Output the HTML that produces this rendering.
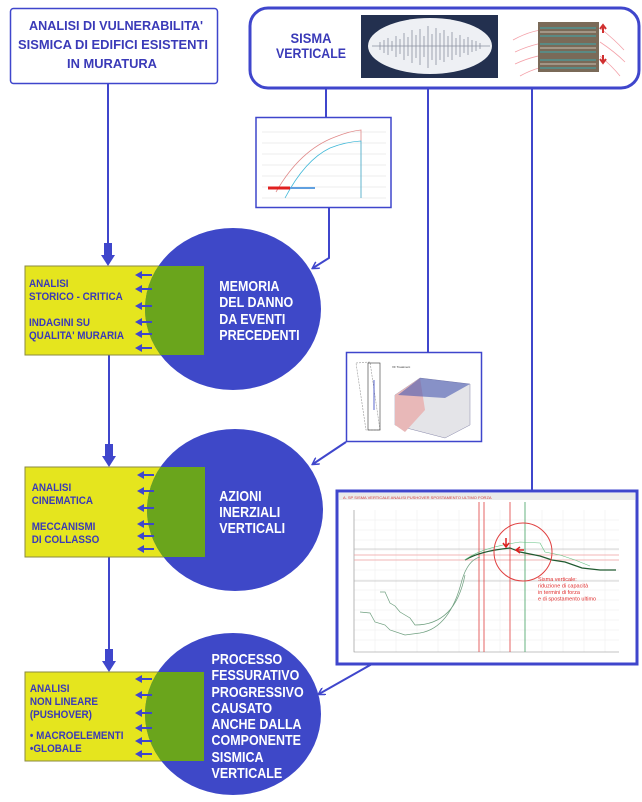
<!DOCTYPE html>
<html><head><meta charset="utf-8"><style>
html,body{margin:0;padding:0;background:#fff;}
svg{display:block;}
.t{font-family:"Liberation Sans",sans-serif;font-weight:bold;}
</style></head><body>
<svg width="642" height="802" viewBox="0 0 642 802" xmlns="http://www.w3.org/2000/svg">
<defs>
<marker id="ah" markerWidth="8" markerHeight="8" refX="6" refY="4" orient="auto" markerUnits="userSpaceOnUse"><path d="M0,0 L7,4 L0,8" fill="none" stroke="#3f46cc" stroke-width="1.5"/></marker>
</defs>
<rect x="10.5" y="8.5" width="207" height="75" rx="3" fill="#fff" stroke="#3f46cc" stroke-width="1.5"/>
<g class="t" fill="#3a3ab8" font-size="13" text-anchor="middle">
<text x="116" y="30" textLength="174" lengthAdjust="spacingAndGlyphs">ANALISI DI VULNERABILITA'</text>
<text x="113" y="49" textLength="190" lengthAdjust="spacingAndGlyphs">SISMICA DI EDIFICI ESISTENTI</text>
<text x="112" y="68" textLength="90" lengthAdjust="spacingAndGlyphs">IN MURATURA</text>
</g>
<rect x="250" y="8" width="389" height="80" rx="18" fill="#fff" stroke="#3f46cc" stroke-width="3"/>
<g class="t" fill="#3a3ab8" font-size="14" text-anchor="middle">
<text x="311" y="43" textLength="41" lengthAdjust="spacingAndGlyphs">SISMA</text>
<text x="311" y="58" textLength="70" lengthAdjust="spacingAndGlyphs">VERTICALE</text>
</g>
<rect x="361" y="15" width="137" height="63" fill="#23304f"/>
<ellipse cx="430" cy="46" rx="62" ry="28" fill="#eef0f4"/>
<g stroke="#8a90a0" stroke-width="0.8">
<path d="M372,46 H490"/>
<path d="M380,42V50 M384,40V53 M388,38V55 M392,41V51 M396,36V57 M400,39V54 M404,33V60 M408,37V56 M412,30V63 M416,35V58 M420,29V65 M424,36V57 M428,26V68 M432,34V60 M436,28V65 M440,33V60 M444,30V62 M448,36V57 M452,32V60 M456,38V55 M460,35V57 M464,39V53 M468,37V55 M472,40V52 M476,41V51 M480,43V49"/>
</g>
<g fill="none" stroke="#f4a0a8" stroke-width="0.8">
<path d="M513,40 Q540,25 568,30 M515,52 Q545,38 575,42 M515,64 Q545,50 575,55 M520,76 Q545,62 570,66"/>
<path d="M600,28 Q615,40 624,50 M600,42 Q615,52 625,62 M600,56 Q612,66 620,76"/>
</g>
<rect x="538" y="22" width="61" height="50" fill="#7a6a58"/>
<g stroke="#5a8a84" stroke-width="2"><path d="M540,28H596M540,36H596M540,44H596M540,52H596M540,60H596M540,68H596"/></g>
<g stroke="#c9c2b5" stroke-width="1"><path d="M540,32H596M540,48H596M540,64H596"/></g>
<path d="M603,33v-7M600,29l3,-4l3,4" stroke="#d03030" stroke-width="2" fill="none"/>
<path d="M603,55v7M600,59l3,4l3,-4" stroke="#d03030" stroke-width="2" fill="none"/>
<g stroke="#3f46cc" stroke-width="2" fill="none">
<path d="M108,83V262"/>
<path d="M326,88V117"/>
<path d="M428,88V352"/>
<path d="M532,88V490"/>
<path d="M329,208V258L313,268" marker-end="url(#ah)"/>
<path d="M346,442L313,464" marker-end="url(#ah)"/>
<path d="M372,664L319,694" marker-end="url(#ah)"/>
<path d="M109,355V460"/>
<path d="M109,557V668"/>
</g>
<g fill="#3f46cc">
<rect x="104" y="243" width="8" height="14"/><path d="M101,255H115L108,266Z"/>
<rect x="105" y="444" width="8" height="14"/><path d="M102,456H116L109,467Z"/>
<rect x="105" y="649" width="8" height="14"/><path d="M102,661H116L109,672Z"/>
</g>
<rect x="256" y="117.5" width="135" height="90" fill="#fff" stroke="#3f46cc" stroke-width="1.5"/>
<g stroke="#ddd" stroke-width="0.5"><path d="M262,132H386M262,143H386M262,154H386M262,165H386M262,176H386M262,187H386M262,198H386"/></g>
<path d="M276,192 Q300,150 335,137 Q350,131 361,130 V198" stroke="#e08a8a" fill="none" stroke-width="0.8"/>
<path d="M285,198 Q305,160 330,148 Q345,142 361,141 V198" stroke="#40b8d8" fill="none" stroke-width="0.8"/>
<path d="M268,188H290" stroke="#e02020" stroke-width="3"/>
<path d="M290,188H315" stroke="#60a0e0" stroke-width="2"/>
<rect x="346.5" y="352.5" width="135" height="89" fill="#fff" stroke="#3f46cc" stroke-width="1.5"/>
<path d="M356,363 L370,362 L380,430 L366,430Z" fill="none" stroke="#999" stroke-width="0.6" stroke-dasharray="2,1"/>
<rect x="368" y="363" width="12" height="67" fill="none" stroke="#333" stroke-width="0.6"/>
<path d="M374,380V410" stroke="#3040c0" stroke-width="0.8"/>
<text x="392" y="368" font-size="3" font-family="Liberation Sans" fill="#333">VF Treatment</text>
<path d="M395,395 L420,378 L470,384 L470,425 L445,438 L395,425Z" fill="#e4e4e8" stroke="#8888aa" stroke-width="0.5"/>
<path d="M395,395 L420,378 L425,410 L405,432 L395,425Z" fill="#e8b8b8"/>
<path d="M420,378 L470,384 L445,398 L398,395Z" fill="#4a5ab0" opacity="0.6"/>
<rect x="337" y="491" width="300" height="173" fill="#fff" stroke="#3f46cc" stroke-width="3"/>
<rect x="339" y="493" width="296" height="7" fill="#eaeaea"/>
<text x="343" y="499" font-size="4" font-family="Liberation Sans" fill="#d04040">A. SP  SISMA VERTICALE ANALISI PUSHOVER SPOSTAMENTO ULTIMO FORZA</text>
<g stroke="#ececec" stroke-width="0.5">
<path d="M354,520H619M354,530H619M354,540H619M354,550H619M354,560H619M354,570H619M354,580H619M354,590H619M354,600H619M354,610H619M354,620H619M354,630H619M354,640H619"/>
<path d="M375,510V652M396,510V652M417,510V652M438,510V652M459,510V652M500,510V652M542,510V652M563,510V652M584,510V652M605,510V652"/>
</g>
<path d="M354,510V652H619" stroke="#888" stroke-width="0.6" fill="none"/>
<path d="M354,581H619M354,549H619" stroke="#aaa" stroke-width="0.5"/>
<path d="M354,555H619M354,560H619" stroke="#f0a0a0" stroke-width="0.8"/>
<g stroke="#e04040" stroke-width="0.8"><path d="M479,502V652M484,502V652M510,502V652"/></g>
<path d="M525,502V652" stroke="#40a060" stroke-width="0.8"/>
<path d="M465,560 Q480,551 510,548 L520,552 L540,556 L552,560 L565,562 L582,568 L600,570 L616,570" stroke="#205a30" fill="none" stroke-width="1.2"/>
<path d="M465,560 Q480,548 520,542 L540,543 L545,552 L560,555 L575,560 L590,566" stroke="#60c080" fill="none" stroke-width="0.6"/>
<path d="M360,612 L370,613 L375,622 L385,625 L390,630 L405,635 L420,633 Q450,628 462,580 Q468,560 480,557" stroke="#70a080" fill="none" stroke-width="0.7"/>
<path d="M380,592 L385,592 L390,603 L395,606 L400,612 L410,618 L415,625 Q455,625 465,575" stroke="#70a080" fill="none" stroke-width="0.7"/>
<circle cx="523" cy="552" r="29" fill="none" stroke="#e04040" stroke-width="1"/>
<path d="M506,538v8M503,543l3,4l3,-4" stroke="#e02020" stroke-width="1.5" fill="none"/>
<path d="M524,550h-8M520,547l-4,3l4,3" stroke="#e02020" stroke-width="1.5" fill="none"/>
<g font-family="Liberation Sans" font-size="5.5" fill="#e03030">
<text x="538" y="581">Sisma verticale:</text>
<text x="538" y="587.5">riduzione di capacità</text>
<text x="538" y="594">in termini di forza</text>
<text x="538" y="600.5">e di spostamento ultimo</text>
</g>
<g stroke="#8a8a40" stroke-width="1">
<rect x="25" y="266" width="179" height="89" fill="#e5e51e"/>
<rect x="25" y="467" width="180" height="90" fill="#e5e51e"/>
<rect x="25" y="672" width="179" height="89" fill="#e5e51e"/>
</g>
<g fill="#3e48c8">
<ellipse cx="233" cy="309" rx="88" ry="81"/>
<ellipse cx="235" cy="510" rx="88" ry="81"/>
<ellipse cx="233" cy="714" rx="88" ry="81"/>
</g>
<clipPath id="c1"><ellipse cx="233" cy="309" rx="88" ry="81"/></clipPath>
<clipPath id="c2"><ellipse cx="235" cy="510" rx="88" ry="81"/></clipPath>
<clipPath id="c3"><ellipse cx="233" cy="714" rx="88" ry="81"/></clipPath>
<rect x="140" y="266" width="64" height="89" fill="#6aa51c" clip-path="url(#c1)"/>
<rect x="140" y="467" width="65" height="90" fill="#6aa51c" clip-path="url(#c2)"/>
<rect x="140" y="672" width="64" height="89" fill="#6aa51c" clip-path="url(#c3)"/>
<g fill="#3f46cc">
<path d="M135,275l7,-4v3h10v2h-10v3z M135,289l7,-4v3h10v2h-10v3z M135,306l7,-4v3h10v2h-10v3z M135,322l7,-4v3h10v2h-10v3z M135,334l7,-4v3h10v2h-10v3z M135,348l7,-4v3h10v2h-10v3z"/>
<path d="M137,475l7,-4v3h10v2h-10v3z M137,491l7,-4v3h10v2h-10v3z M137,508l7,-4v3h10v2h-10v3z M137,524l7,-4v3h10v2h-10v3z M137,536l7,-4v3h10v2h-10v3z M137,549l7,-4v3h10v2h-10v3z"/>
<path d="M135,679l7,-4v3h10v2h-10v3z M135,695l7,-4v3h10v2h-10v3z M135,713l7,-4v3h10v2h-10v3z M135,728l7,-4v3h10v2h-10v3z M135,741l7,-4v3h10v2h-10v3z M135,754l7,-4v3h10v2h-10v3z"/>
</g>
<g class="t" fill="#3a3ab8" font-size="11" transform="translate(29,0) scale(0.9,1) translate(-29,0)">
<text x="29" y="287">ANALISI</text>
<text x="29" y="300">STORICO - CRITICA</text>
<text x="29" y="326">INDAGINI SU</text>
<text x="29" y="339">QUALITA' MURARIA</text>
<text x="32" y="491">ANALISI</text>
<text x="32" y="504">CINEMATICA</text>
<text x="32" y="530">MECCANISMI</text>
<text x="32" y="543">DI COLLASSO</text>
<text x="30" y="692">ANALISI</text>
<text x="30" y="705">NON LINEARE</text>
<text x="30" y="718">(PUSHOVER)</text>
<text x="30" y="739">• MACROELEMENTI</text>
<text x="30" y="752">•GLOBALE</text>
</g>
<g class="t" fill="#fff" font-size="14.5" transform="translate(215,0) scale(0.86,1) translate(-215,0)">
<text x="220" y="291">MEMORIA</text>
<text x="220" y="307">DEL DANNO</text>
<text x="220" y="324">DA EVENTI</text>
<text x="220" y="340">PRECEDENTI</text>
<text x="220" y="501">AZIONI</text>
<text x="220" y="517">INERZIALI</text>
<text x="220" y="533">VERTICALI</text>
<text x="211" y="664">PROCESSO</text>
<text x="211" y="680">FESSURATIVO</text>
<text x="211" y="697">PROGRESSIVO</text>
<text x="211" y="713">CAUSATO</text>
<text x="211" y="729">ANCHE DALLA</text>
<text x="211" y="745">COMPONENTE</text>
<text x="211" y="762">SISMICA</text>
<text x="211" y="778">VERTICALE</text>
</g>
</svg>
</body></html>
